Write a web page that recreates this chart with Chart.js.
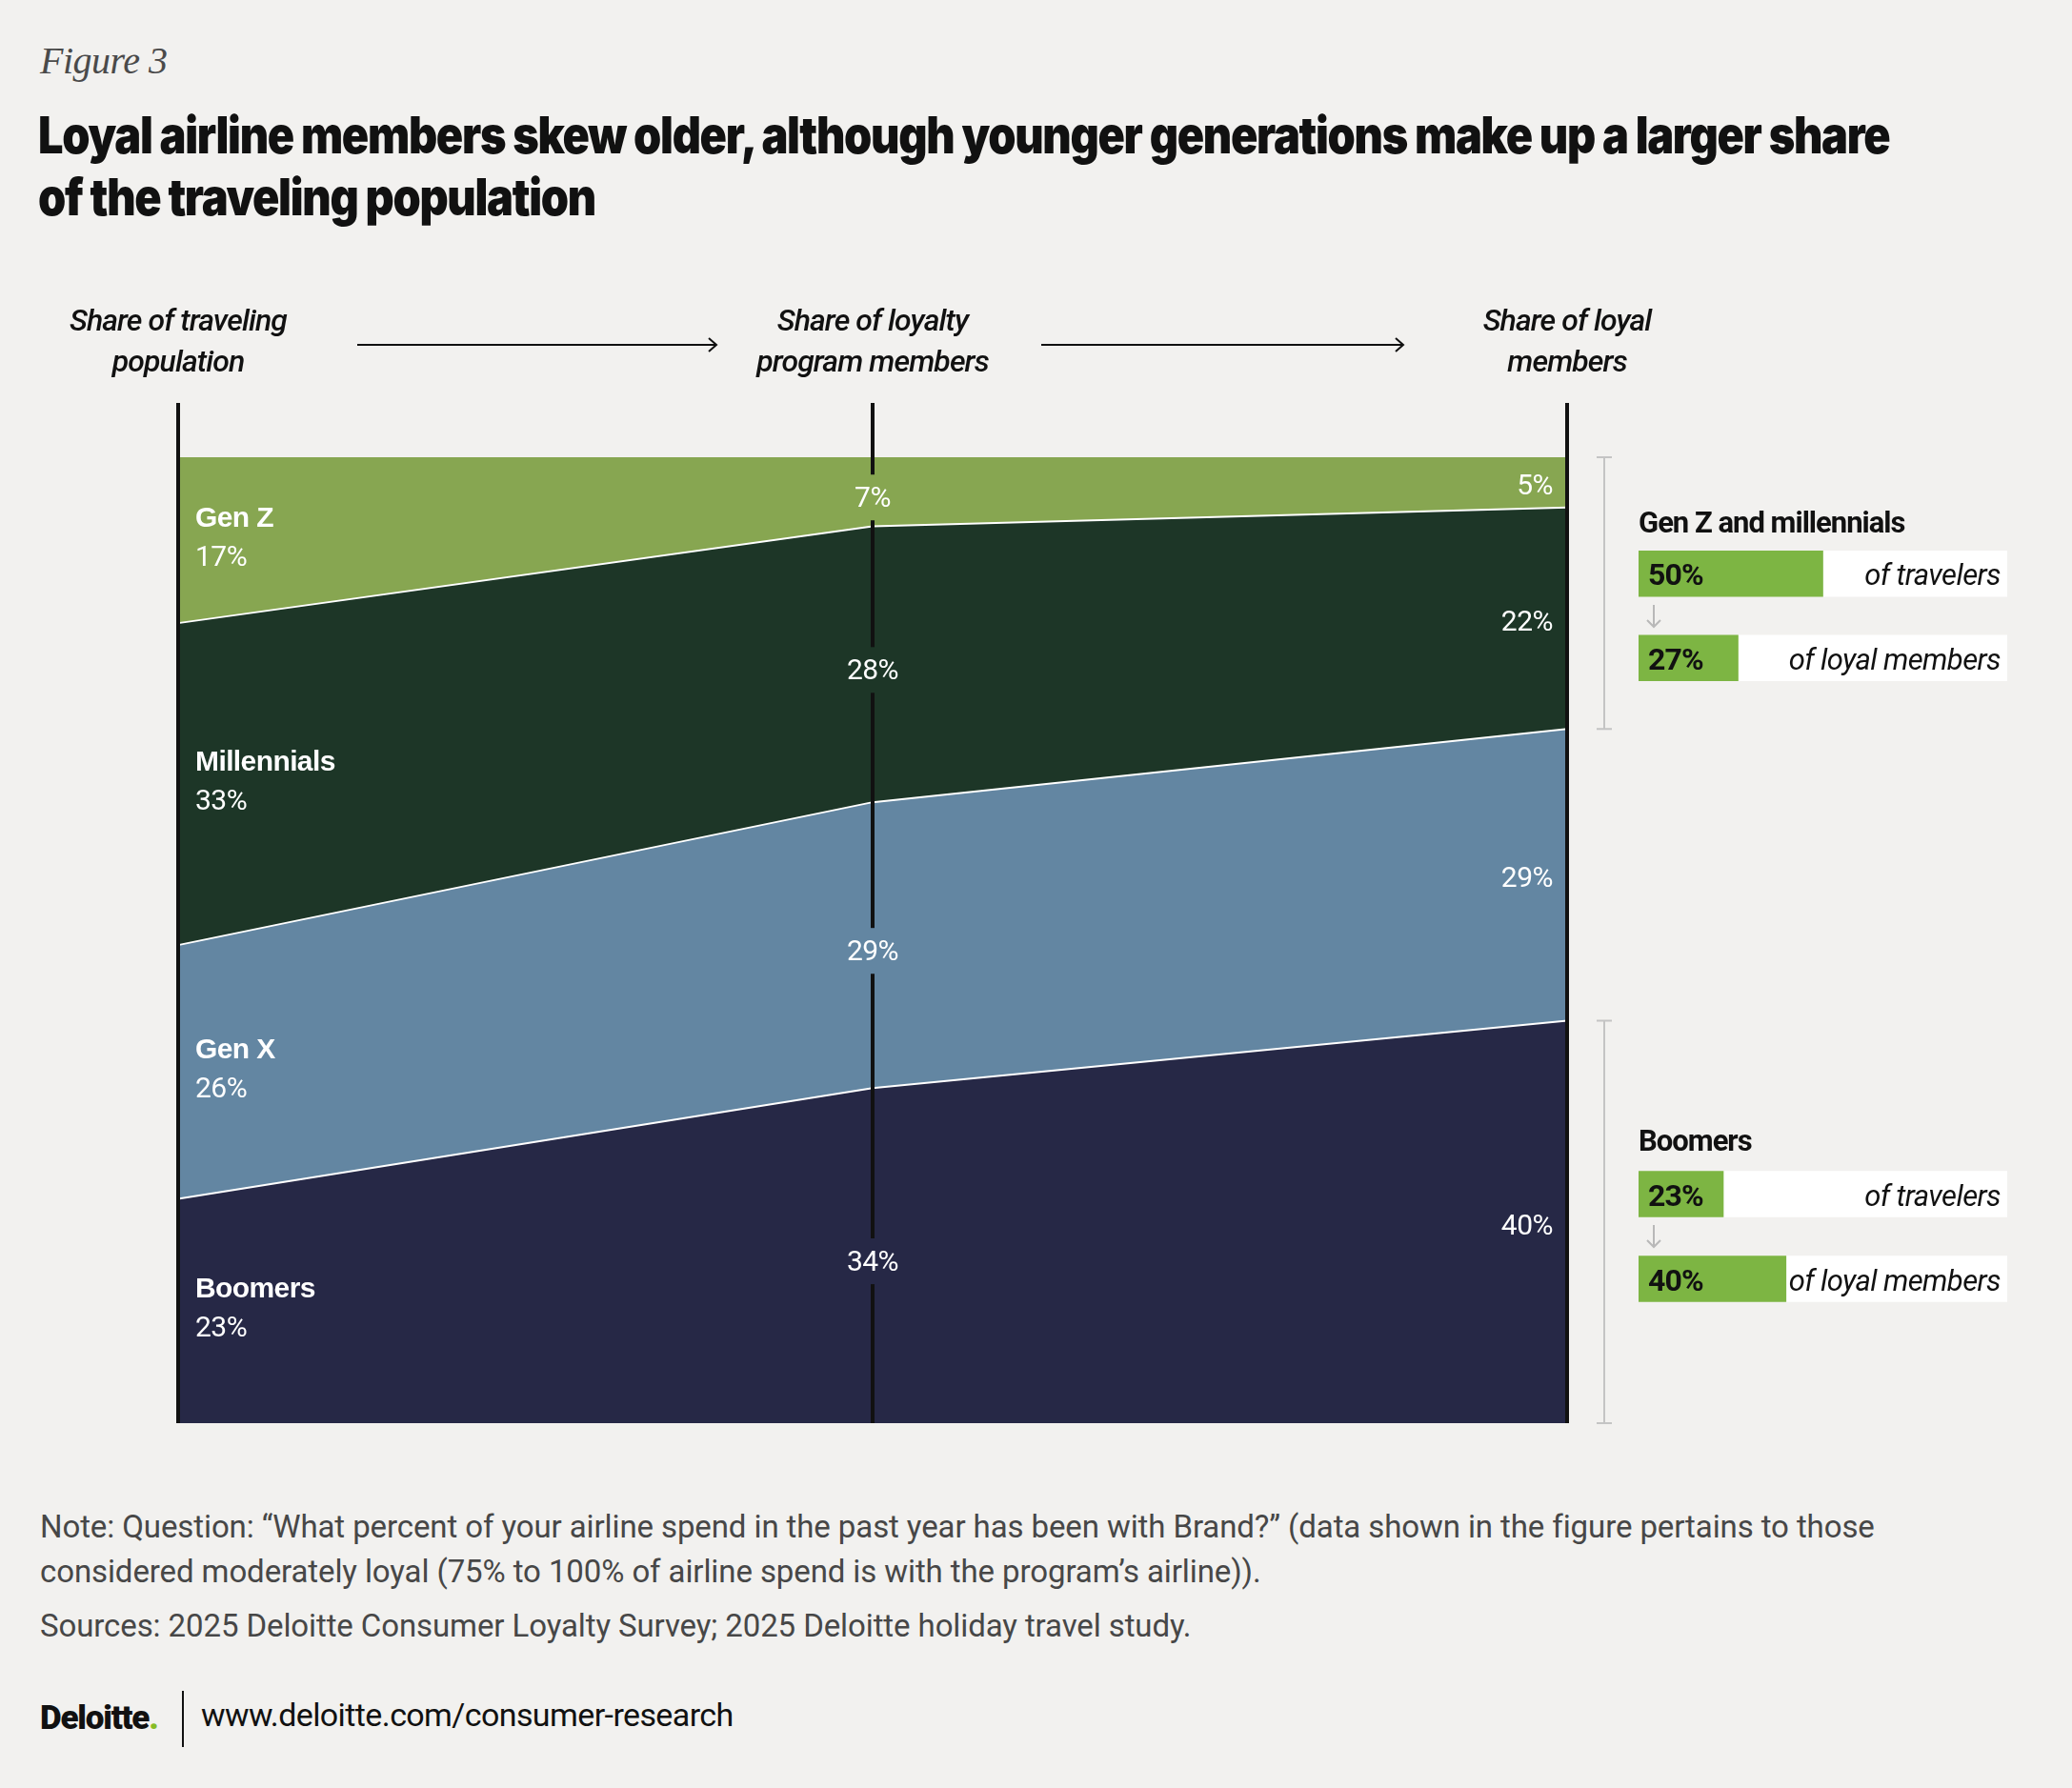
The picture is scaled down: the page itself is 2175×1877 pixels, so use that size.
<!DOCTYPE html>
<html>
<head>
<meta charset="utf-8">
<script src="https://cdn.jsdelivr.net/npm/chart.js@4.4.1/dist/chart.umd.min.js"></script>
<style>
  body { margin: 0; background: #f2f1ef; width: 2175px; height: 1877px; position: relative; overflow: hidden; font-family: Roboto, "Liberation Sans", sans-serif; color: #111; }
  .abs { position: absolute; white-space: nowrap; }
  #fig { left: 42px; top: 40px; font: italic 40px "Liberation Serif", "DejaVu Serif", serif; color: #4a4a4a; letter-spacing: -0.5px; }
  #title { left: 40px; top: 109px; font-family: Inter, Roboto, sans-serif; font-weight: 900; font-size: 54px; line-height: 65px; letter-spacing: -1.5px; transform: scaleX(0.868); transform-origin: 0 0; }
  .colhead { width: 400px; text-align: center; font-style: italic; font-weight: 500; font-size: 32px; line-height: 43px; letter-spacing: -0.9px; top: 315px; }
  .lbl { color: #fff; line-height: 1; }
  .name { font-family: "Liberation Sans", Arial, sans-serif; font-weight: 700; font-size: 30px; letter-spacing: -0.6px; }
  .pct { font-size: 30px; letter-spacing: -0.5px; }
  .ghead { font-weight: 700; font-size: 31px; letter-spacing: -1px; }
  .bval { font-weight: 700; font-size: 32px; letter-spacing: -0.8px; color: #111; line-height: 1; }
  .brow { font-style: italic; font-size: 31px; letter-spacing: -0.6px; color: #111; line-height: 1; }
  .darr { line-height: 0; }
  #note { left: 42px; top: 1579px; font-size: 33px; line-height: 47px; color: #474747; letter-spacing: -0.1px; }
  #src { left: 42px; top: 1687px; font-size: 33px; color: #474747; letter-spacing: -0.1px; }
  #logo { left: 42px; top: 1783px; font-weight: 900; font-size: 35px; letter-spacing: -1.2px; }
  #logo span { color: #86bc25; }
  #sep { left: 191px; top: 1775px; width: 2px; height: 59px; background: #111; }
  #url { left: 211px; top: 1780px; font-size: 34px; letter-spacing: -0.6px; }
</style>
</head>
<body>
<div id="fig" class="abs">Figure 3</div>
<div id="title" class="abs">Loyal airline members skew older, although younger generations make up a larger share<br>of the traveling population</div>

<svg class="abs" style="left:0;top:340px" width="2175" height="44">
  <g stroke="#111" stroke-width="2" fill="none">
    <line x1="375" y1="22" x2="752" y2="22"/>
    <polyline points="744,15 752,22 744,29"/>
    <line x1="1093" y1="22" x2="1473" y2="22"/>
    <polyline points="1465,15 1473,22 1465,29"/>
  </g>
</svg>

<canvas id="chart" class="abs" style="left:0;top:300px"></canvas>
<canvas id="panel0" class="abs" style="left:1720px;top:558px"></canvas>
<canvas id="panel1" class="abs" style="left:1720px;top:1209px"></canvas>

<div id="note" class="abs">Note: Question: “What percent of your airline spend in the past year has been with Brand?” (data shown in the figure pertains to those<br>considered moderately loyal (75% to 100% of airline spend is with the program’s airline)).</div>
<div id="src" class="abs">Sources: 2025 Deloitte Consumer Loyalty Survey; 2025 Deloitte holiday travel study.</div>
<div id="logo" class="abs">Deloitte<span>.</span></div>
<div id="sep" class="abs"></div>
<div id="url" class="abs">www.deloitte.com/consumer-research</div>

<script>
// stages along the x axis
const stages = ["Share of traveling population", "Share of loyalty program members", "Share of loyal members"];
const stageHeads = ["Share of traveling<br>population", "Share of loyalty<br>program members", "Share of loyal<br>members"];

// generations, bottom to top
const generations = ["Boomers", "Gen X", "Millennials", "Gen Z"];
const boomers = [23, 34, 40];
const genX = [26, 29, 29];
const millennials = [33, 28, 22];
const genZ = [17, 7, 5];
const colors = ["#262846", "#6386a2", "#1d3627", "#87a651"];

// side panel
const panelGroups = ["Gen Z and millennials", "Boomers"];
const panelRows = ["of travelers", "of loyal members"];
const ofTravelers = [50, 23];
const ofLoyal = [27, 40];

const series = [boomers, genX, millennials, genZ];
const totals = stages.map((_, i) => series.reduce((s, a) => s + a[i], 0));
const shares = series.map(a => a.map((v, i) => v / totals[i] * 100));

const CANVAS_TOP = 300;
const gaps = []; // label gaps on the middle line

function addLabel(html, x, y, cls, align) {
  const d = document.createElement("div");
  d.className = "abs " + cls;
  d.innerHTML = html;
  d.style.left = x + "px";
  d.style.top = y + "px";
  const tx = align === "center" ? "-50%" : align === "right" ? "-100%" : "0";
  d.style.transform = `translate(${tx},-50%)`;
  document.body.appendChild(d);
  return d;
}

const lines = {
  id: "lines",
  afterDraw(chart) {
    const c = chart.ctx;
    const xs = chart.scales.x, ys = chart.scales.y;
    const bottom = chart.chartArea.bottom;
    const top = 423 - CANVAS_TOP;
    c.save();
    c.strokeStyle = "#111";
    c.lineWidth = 4;
    stages.forEach((_, i) => {
      const x = xs.getPixelForValue(i);
      let segs = [[top, bottom]];
      if (i === 1) {
        segs = [];
        let y0 = top;
        gaps.forEach(g => { segs.push([y0, g - 24]); y0 = g + 24; });
        segs.push([y0, bottom]);
      }
      segs.forEach(s => {
        c.beginPath(); c.moveTo(x, s[0]); c.lineTo(x, s[1]); c.stroke();
      });
    });
    // brackets for the side panel
    c.strokeStyle = "#c4c4c4";
    c.lineWidth = 2;
    const bx = xs.getPixelForValue(2) + 39;
    const last = shares.map(a => a[2]);
    const spans = [
      [ys.getPixelForValue(100), ys.getPixelForValue(last[0] + last[1])],
      [ys.getPixelForValue(last[0]), ys.getPixelForValue(0)]
    ];
    spans.forEach(([a, b]) => {
      c.beginPath();
      c.moveTo(bx - 8, a); c.lineTo(bx + 8, a);
      c.moveTo(bx, a); c.lineTo(bx, b);
      c.moveTo(bx - 8, b); c.lineTo(bx + 8, b);
      c.stroke();
    });
    c.restore();
  }
};

function bandMid(ys, g, i) {
  let lo = 0;
  for (let k = 0; k < g; k++) lo += shares[k][i];
  return (ys.getPixelForValue(lo) + ys.getPixelForValue(lo + shares[g][i])) / 2;
}

const canvas = document.getElementById("chart");
canvas.width = 2175; canvas.height = 1220;
canvas.style.width = "2175px"; canvas.style.height = "1220px";

const chart = new Chart(canvas.getContext("2d"), {
  type: "line",
  data: {
    labels: stages,
    datasets: shares.map((d, g) => ({
      label: generations[g],
      data: d,
      backgroundColor: colors[g],
      borderColor: "#ffffff",
      borderWidth: g === 3 ? 0 : 2,
      pointRadius: 0,
      tension: 0,
      fill: g === 0 ? "origin" : "-1"
    }))
  },
  options: {
    responsive: false,
    animation: false,
    devicePixelRatio: 1,
    layout: { padding: { left: 187, right: 530, top: 180, bottom: 26 } },
    plugins: { legend: { display: false }, tooltip: { enabled: false } },
    scales: {
      x: { display: false },
      y: { display: false, stacked: true, min: 0, max: 100 }
    }
  },
  plugins: [lines]
});

const xs = chart.scales.x, ys = chart.scales.y;
generations.forEach((name, g) => {
  const x0 = xs.getPixelForValue(0);
  const m0 = bandMid(ys, g, 0) + CANVAS_TOP;
  addLabel(name, x0 + 18, m0 - 24, "lbl name", "left");
  addLabel(series[g][0] + "%", x0 + 18, m0 + 17, "lbl pct", "left");

  const m1 = bandMid(ys, g, 1) + 6;
  gaps.push(m1);
  addLabel(series[g][1] + "%", xs.getPixelForValue(1), m1 + CANVAS_TOP, "lbl pct", "center");

  const m2 = bandMid(ys, g, 2) + CANVAS_TOP + 3;
  addLabel(series[g][2] + "%", xs.getPixelForValue(2) - 15, m2, "lbl pct", "right");
});
gaps.sort((a, b) => a - b);
chart.draw();

stageHeads.forEach((h, i) => {
  const d = document.createElement("div");
  d.className = "abs colhead";
  d.innerHTML = h;
  d.style.left = (xs.getPixelForValue(i) - 200) + "px";
  document.body.appendChild(d);
});

// side panel bars
const headY = [548, 1197];
const arrowSvg = '<svg width="20" height="26"><g stroke="#b8b8b8" stroke-width="2" fill="none">' +
  '<line x1="10" y1="1" x2="10" y2="24"/><polyline points="3,17 10,24 17,17"/></g></svg>';
panelGroups.forEach((grp, g) => {
  const cv = document.getElementById("panel" + g);
  const h = g === 0 ? 177 : 178;
  cv.width = 387; cv.height = h;
  cv.style.width = "387px"; cv.style.height = h + "px";
  const vals = [ofTravelers[g], ofLoyal[g]];
  const pc = new Chart(cv.getContext("2d"), {
    type: "bar",
    data: {
      labels: panelRows,
      datasets: [
        { data: vals, backgroundColor: "#7db543", barThickness: 48, borderWidth: 0 },
        { data: vals.map(v => 100 - v), backgroundColor: "#ffffff", barThickness: 48, borderWidth: 0 }
      ]
    },
    options: {
      indexAxis: "y",
      responsive: false,
      animation: false,
      devicePixelRatio: 1,
      layout: { padding: 0 },
      plugins: { legend: { display: false }, tooltip: { enabled: false } },
      scales: {
        x: { display: false, stacked: true, min: 0, max: 100 },
        y: { display: false, stacked: true }
      }
    }
  });
  const left = parseFloat(cv.style.left);
  const top = parseFloat(cv.style.top);
  addLabel(grp, left, headY[g], "ghead", "left");
  const bars = pc.getDatasetMeta(0).data;
  bars.forEach((b, r) => {
    addLabel(vals[r] + "%", left + 10, top + b.y + 1, "bval", "left");
    addLabel(panelRows[r], left + 380, top + b.y + 1, "brow", "right");
  });
  addLabel(arrowSvg, left + 16, top + (bars[0].y + bars[1].y) / 2, "darr", "center");
});
</script>
</body>
</html>
